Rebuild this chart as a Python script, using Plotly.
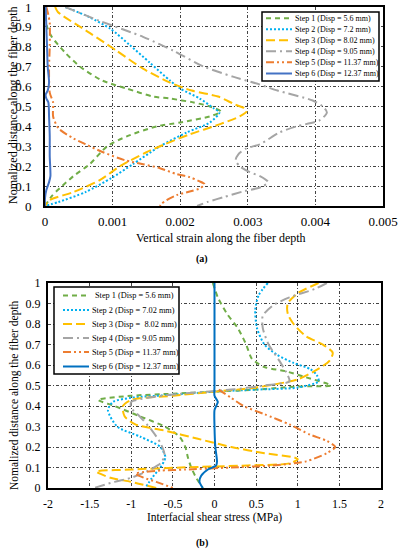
import plotly.graph_objects as go

# ---------------- DATA ----------------
# (a) Vertical strain along the fiber depth (x) vs normalized distance (y)
a_names = ["Step 1 (Disp = 5.6 mm)", "Step 2 (Disp = 7.2 mm)", "Step 3 (Disp = 8.02 mm)",
           "Step 4 (Disp = 9.05 mm)", "Step 5 (Disp = 11.37 mm)", "Step 6 (Disp = 12.37 mm)"]

a1_x = [0.0, 0.00001, 0.00003, 0.00010, 0.00030, 0.00052, 0.00085, 0.00121, 0.00160, 0.00185, 0.00220,
        0.00244, 0.00260, 0.00244, 0.00200, 0.00165, 0.00121, 0.00092, 0.00066, 0.00042, 0.00022, 0.00010, 0.0]
a1_y = [1.0, 0.95, 0.90, 0.85, 0.77, 0.70, 0.63, 0.59, 0.55, 0.54, 0.52,
        0.50, 0.475, 0.45, 0.42, 0.40, 0.35, 0.30, 0.21, 0.15, 0.09, 0.05, 0.0]

a2_x = [0.00030, 0.00065, 0.00097, 0.00125, 0.00155, 0.00185, 0.00200, 0.00229, 0.00250, 0.00258,
        0.00244, 0.00210, 0.00170, 0.00130, 0.00098, 0.00060, 0.00020, 0.0]
a2_y = [1.0, 0.95, 0.89, 0.81, 0.72, 0.63, 0.59, 0.54, 0.49, 0.47,
        0.42, 0.37, 0.30, 0.21, 0.14, 0.07, 0.02, 0.0]

a3_x = [0.00015, 0.00019, 0.00066, 0.00106, 0.00145, 0.00185, 0.00217, 0.00256, 0.00281, 0.00296,
        0.00298, 0.00288, 0.00258, 0.00214, 0.00177, 0.00150, 0.00111, 0.00081, 0.00042, 0.00007, 0.0]
a3_y = [1.0, 0.975, 0.87, 0.78, 0.69, 0.62, 0.58, 0.55, 0.51, 0.49,
        0.475, 0.45, 0.41, 0.36, 0.31, 0.27, 0.20, 0.13, 0.07, 0.03, 0.0]

a4_x = [0.00030, 0.00081, 0.00145, 0.00190, 0.00235, 0.00278, 0.00318, 0.00344, 0.00396, 0.00411,
        0.00417, 0.00406, 0.00372, 0.00347, 0.00318, 0.00298, 0.00286, 0.00282, 0.00288, 0.00303, 0.00318,
        0.00330, 0.00320, 0.00295, 0.00265, 0.00240, 0.00225]
a4_y = [1.0, 0.93, 0.85, 0.78, 0.70, 0.65, 0.61, 0.58, 0.53, 0.50,
        0.47, 0.43, 0.40, 0.37, 0.31, 0.29, 0.26, 0.23, 0.20, 0.17, 0.15,
        0.12, 0.095, 0.075, 0.045, 0.02, 0.0]

a5_x = [0.00002, 0.00005, 0.00007, 0.00007, 0.00006, 0.00007, 0.00012, 0.00012, 0.00020, 0.00042,
        0.00060, 0.00086, 0.00118, 0.00145, 0.00170, 0.00195, 0.00214, 0.00228, 0.00236, 0.00230,
        0.00217, 0.00195, 0.00180, 0.00172, 0.00170]
a5_y = [1.0, 0.96, 0.92, 0.80, 0.70, 0.57, 0.52, 0.45, 0.39, 0.34,
        0.31, 0.27, 0.23, 0.21, 0.19, 0.16, 0.145, 0.125, 0.11, 0.09,
        0.075, 0.055, 0.03, 0.01, 0.0]

a6_x = [0.00001, 0.00002, 0.00003, 0.00004, 0.00006, 0.00004, 0.00001, 0.00002, 0.00005, 0.00006,
        0.00007, 0.00007, 0.00008, 0.00006, 0.00002, 0.0, 0.0]
a6_y = [1.0, 0.90, 0.80, 0.70, 0.62, 0.58, 0.56, 0.54, 0.52, 0.45,
        0.35, 0.25, 0.15, 0.12, 0.08, 0.04, 0.0]

# (b) Interfacial shear stress (MPa) vs normalized distance
b_names = ["Step 1 (Disp = 5.6 mm)", "Step 2 (Disp = 7.02 mm)", "Step 3 (Disp =\u00a0 8.02 mm)",
           "Step 4 (Disp = 9.05 mm)", "Step 5 (Disp = 11.37 mm)", "Step 6 (Disp = 12.37 mm)"]

b1_x = [-0.02, 0.04, 0.15, 0.28, 0.38, 0.45, 0.60, 0.85, 1.10, 1.40, 1.00, 0.50, 0.0, -0.50, -1.00,
        -1.40, -1.20, -0.90, -0.60, -0.42, -0.35, -0.32, -0.28, -0.22, -0.14]
b1_y = [1.0, 0.93, 0.85, 0.78, 0.70, 0.63, 0.59, 0.57, 0.54, 0.50, 0.495, 0.48, 0.47, 0.46, 0.45,
        0.43, 0.40, 0.35, 0.30, 0.25, 0.20, 0.15, 0.10, 0.05, 0.0]

b2_x = [0.64, 0.53, 0.49, 0.51, 0.60, 0.75, 0.95, 1.15, 1.23, 1.25, 1.00, 0.50, 0.0, -0.50, -1.00,
        -1.22, -1.28, -1.17, -0.89, -0.65, -0.59, -0.65, -0.75, -0.83]
b2_y = [1.0, 0.94, 0.87, 0.78, 0.70, 0.65, 0.61, 0.58, 0.55, 0.52, 0.49, 0.48, 0.47, 0.455, 0.44,
        0.42, 0.38, 0.30, 0.25, 0.20, 0.15, 0.10, 0.05, 0.0]

b3_x = [1.25, 1.00, 0.88, 0.88, 0.95, 1.10, 1.30, 1.42, 1.38, 1.20, 1.00, 0.50, 0.0, -0.50, -1.00,
        -1.10, -1.08, -0.95, -0.60, -0.20, 0.20, 0.60, 0.95, 1.00, 0.90, 0.40, -0.40, -1.00,
        -1.42, -1.25, -1.00, -0.70]
b3_y = [1.0, 0.95, 0.90, 0.85, 0.80, 0.74, 0.70, 0.66, 0.62, 0.57, 0.53, 0.49, 0.47, 0.45, 0.43,
        0.40, 0.35, 0.31, 0.28, 0.24, 0.20, 0.17, 0.15, 0.14, 0.12, 0.11, 0.10, 0.09,
        0.08, 0.05, 0.03, 0.0]

b4_x = [1.35, 1.20, 0.90, 0.70, 0.58, 0.58, 0.65, 0.78, 0.88, 0.90, 0.60, 0.20, -0.40, -0.80,
        -1.00, -1.00, -0.90, -0.75, -0.65, -0.60, -0.65, -0.82, -1.00, -1.20, -1.45]
b4_y = [1.0, 0.97, 0.93, 0.89, 0.84, 0.78, 0.70, 0.62, 0.55, 0.52, 0.50, 0.48, 0.46, 0.44,
        0.42, 0.39, 0.35, 0.28, 0.22, 0.16, 0.12, 0.08, 0.05, 0.03, 0.0]

b5_x = [0.05, 0.20, 0.35, 0.60, 0.90, 1.15, 1.35, 1.45, 1.35, 1.10, 0.70, 0.20, -0.35, -0.65,
        -0.95, -0.85, -0.70, -0.50]
b5_y = [0.48, 0.44, 0.40, 0.36, 0.31, 0.26, 0.23, 0.20, 0.17, 0.13, 0.11, 0.10, 0.09, 0.085,
        0.07, 0.05, 0.03, 0.0]

b6_x = [0.0, 0.0, 0.0, 0.0, 0.0, 0.04, 0.02, 0.0, 0.0, 0.01, 0.03, 0.02, -0.08, -0.16, -0.18, -0.14]
b6_y = [1.0, 0.80, 0.60, 0.50, 0.45, 0.42, 0.40, 0.38, 0.30, 0.20, 0.13, 0.11, 0.09, 0.06, 0.03, 0.0]

a_xtickvals = [0, 0.001, 0.002, 0.003, 0.004, 0.005]
a_xticktext = ["0", "0.001", "0.002", "0.003", "0.004", "0.005"]
b_xtickvals = [-2, -1.5, -1, -0.5, 0, 0.5, 1, 1.5, 2]
b_xticktext = ["-2", "-1.5", "-1", "-0.5", "0", "0.5", "1", "1.5", "2"]
ytickvals = [0, 0.1, 0.2, 0.3, 0.4, 0.5, 0.6, 0.7, 0.8, 0.9, 1]
yticktext = ["0", "0.1", "0.2", "0.3", "0.4", "0.5", "0.6", "0.7", "0.8", "0.9", "1"]

# ---------------- STYLE ----------------
FONT = "Liberation Serif"
W, H = 398, 550
colors_a = ["#70AD47", "#00B0F0", "#FFC000", "#A5A5A5", "#ED7D31", "#4472C4"]
colors_b = ["#70AD47", "#00B0F0", "#FFC000", "#A5A5A5", "#ED7D31", "#0070C0"]
dashes = ["5px,4px", "2px,2px", "9px,4px", "10px,4px,2px,4px", "8px,3px,2px,3px,2px,3px", "solid"]

def px(x):
    return x / W

def py(y):
    return 1 - y / H

fig = go.Figure()
a_data = [(a1_x, a1_y), (a2_x, a2_y), (a3_x, a3_y), (a4_x, a4_y), (a5_x, a5_y), (a6_x, a6_y)]
b_data = [(b1_x, b1_y), (b2_x, b2_y), (b3_x, b3_y), (b4_x, b4_y), (b5_x, b5_y), (b6_x, b6_y)]

for i, (xs, ys) in enumerate(a_data):
    fig.add_trace(go.Scatter(x=xs, y=ys, mode="lines", name=a_names[i], showlegend=False,
                             line=dict(color=colors_a[i], width=2, dash=dashes[i], shape="spline", smoothing=0.7),
                             xaxis="x", yaxis="y"))
for i, (xs, ys) in enumerate(b_data):
    fig.add_trace(go.Scatter(x=xs, y=ys, mode="lines", name=b_names[i], showlegend=False,
                             line=dict(color=colors_b[i], width=2, dash=dashes[i], shape="spline", smoothing=0.7),
                             xaxis="x2", yaxis="y2"))

axis_common = dict(showline=True, mirror=True, linecolor="black", linewidth=2, ticks="",
                   showgrid=True, gridcolor="#444", gridwidth=1, griddash="3px,2px,1px,2px",
                   zeroline=False, automargin=False, ticklabeloverflow="allow",
                   tickfont=dict(family=FONT, size=13, color="black"))

fig.update_layout(
    width=W, height=H, margin=dict(l=0, r=0, t=0, b=0),
    paper_bgcolor="white", plot_bgcolor="white",
    font=dict(family=FONT, color="black"),
    xaxis=dict(axis_common, domain=[px(45), px(383)], range=[0, 0.005], anchor="y",
               tickvals=a_xtickvals, ticktext=a_xticktext, ticklabelstandoff=2),
    yaxis=dict(axis_common, domain=[py(206), py(7)], range=[0, 1], anchor="x",
               tickvals=ytickvals, ticktext=yticktext, ticklabelstandoff=9),
    xaxis2=dict(axis_common, domain=[px(48), px(381)], range=[-2, 2], anchor="y2",
                tickvals=b_xtickvals, ticktext=b_xticktext, ticklabelstandoff=4,
                tickfont=dict(family=FONT, size=12, color="black")),
    yaxis2=dict(axis_common, domain=[py(488), py(283)], range=[0, 1], anchor="x2",
                tickvals=ytickvals, ticktext=yticktext, ticklabelstandoff=3,
                tickfont=dict(family=FONT, size=12, color="black")),
)

ann = []
shapes = []
# axis titles and panel labels
ann.append(dict(text="Vertical strain along the fiber depth", x=px(221), y=py(238), xref="paper", yref="paper",
                showarrow=False, font=dict(family=FONT, size=12), xanchor="center", yanchor="middle"))
ann.append(dict(text="Interfacial shear stress (MPa)", x=px(215), y=py(517), xref="paper", yref="paper",
                showarrow=False, font=dict(family=FONT, size=11.5), xanchor="center", yanchor="middle"))
ann.append(dict(text="Nomalized distance along the fiber depth", x=px(13), y=py(105), xref="paper", yref="paper",
                showarrow=False, font=dict(family=FONT, size=12), textangle=-90, xanchor="center", yanchor="middle"))
ann.append(dict(text="Nomalized distance along the fiber depth", x=px(14), y=py(395), xref="paper", yref="paper",
                showarrow=False, font=dict(family=FONT, size=11.5), textangle=-90, xanchor="center", yanchor="middle"))
ann.append(dict(text="<b>(a)</b>", x=px(202), y=py(259), xref="paper", yref="paper",
                showarrow=False, font=dict(family=FONT, size=10), xanchor="center", yanchor="middle"))
ann.append(dict(text="<b>(b)</b>", x=px(202), y=py(543), xref="paper", yref="paper",
                showarrow=False, font=dict(family=FONT, size=10), xanchor="center", yanchor="middle"))

# legend (a)
shapes.append(dict(type="rect", xref="paper", yref="paper", x0=px(262), x1=px(379), y0=py(81), y1=py(12),
                   line=dict(color="black", width=1.5), fillcolor="white", layer="above"))
rows_a = [18.3, 29.3, 40.2, 51.2, 62.3, 73.5]
for i, ry in enumerate(rows_a):
    shapes.append(dict(type="line", xref="paper", yref="paper", x0=px(266), x1=px(292), y0=py(ry), y1=py(ry),
                       line=dict(color=colors_a[i], width=2, dash=dashes[i]), layer="above"))
    ann.append(dict(text=a_names[i], x=px(293), y=py(ry), xref="paper", yref="paper", showarrow=False,
                    font=dict(family=FONT, size=8), xanchor="left", yanchor="middle"))

# legend (b)
shapes.append(dict(type="rect", xref="paper", yref="paper", x0=px(54), x1=px(179), y0=py(374), y1=py(287),
                   line=dict(color="black", width=1.5), fillcolor="white", layer="above"))
rows_b = [295.5, 310, 324, 338, 352, 366.5]
for i, ry in enumerate(rows_b):
    shapes.append(dict(type="line", xref="paper", yref="paper", x0=px(63), x1=px(89), y0=py(ry), y1=py(ry),
                       line=dict(color=colors_b[i], width=2, dash=dashes[i]), layer="above"))
    ann.append(dict(text=b_names[i], x=px(93 if i == 0 else 90), y=py(ry), xref="paper", yref="paper",
                    showarrow=False, font=dict(family=FONT, size=8.3), xanchor="left", yanchor="middle"))

fig.update_layout(annotations=ann, shapes=shapes)
fig.write_html("out.html", config={"displayModeBar": False},
               post_script="document.body.style.margin='0px';")
